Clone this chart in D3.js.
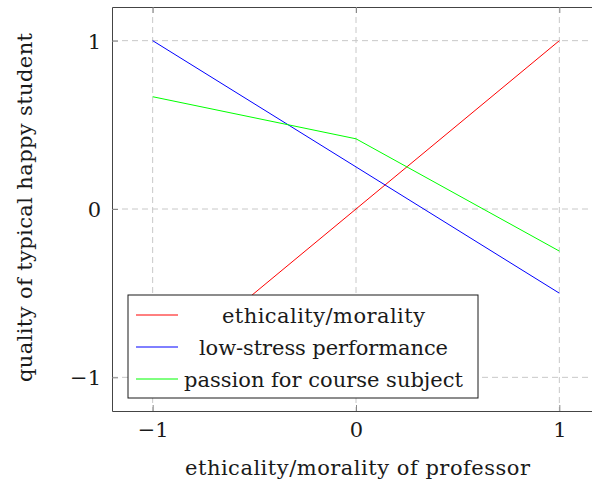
<!DOCTYPE html>
<html>
<head>
<meta charset="utf-8">
<script src="https://cdn.jsdelivr.net/npm/d3@7"></script>
<style>
  body { margin: 0; background: #fff; }
  text { font-family: "DejaVu Serif", serif; fill: #1a1a1a; }
</style>
</head>
<body>
<div class="chart"></div>
<script>
var svgWidth = 592;
var svgHeight = 485;

// data
var xValues = [-1, 0, 1];
var ethicality = [-1, 0, 1];
var lowStress = [1, 0.25, -0.5];
var passion = [0.667, 0.417, -0.25];
var seriesNames = ["ethicality/morality", "low-stress performance", "passion for course subject"];
var seriesColors = ["#ff0000", "#0000ff", "#00ff00"];
var xTicks = [-1, 0, 1];
var yTicks = [-1, 0, 1];

var svg = d3.select(".chart")
  .append("svg")
  .attr("width", svgWidth)
  .attr("height", svgHeight);

var xScale = d3.scaleLinear().domain([-1.2, 1.2]).range([112, 600]);
var yScale = d3.scaleLinear().domain([-1.2, 1.2]).range([411, 7]);

var fmt = function(d) { return d < 0 ? "\u2212" + Math.abs(d) : String(d); };

// grid
var grid = svg.append("g");
grid.selectAll(".vgrid").data(xTicks).enter().append("line")
  .attr("x1", d => xScale(d)).attr("x2", d => xScale(d))
  .attr("y1", yScale.range()[1]).attr("y2", yScale.range()[0])
  .attr("stroke", "#c8c8c8").attr("stroke-dasharray", "6,4");
grid.selectAll(".hgrid").data(yTicks).enter().append("line")
  .attr("x1", xScale.range()[0]).attr("x2", xScale.range()[1])
  .attr("y1", d => yScale(d)).attr("y2", d => yScale(d))
  .attr("stroke", "#c8c8c8").attr("stroke-dasharray", "6,4");

// series lines
var allSeries = [ethicality, lowStress, passion];
var line = d3.line()
  .x((d, i) => xScale(xValues[i]))
  .y(d => yScale(d));

svg.selectAll(".series").data(allSeries).enter().append("path")
  .attr("d", d => line(d))
  .attr("fill", "none")
  .attr("stroke", (d, i) => seriesColors[i])
  .attr("stroke-width", 1);

// frame + inner ticks
var bottomAxis = d3.axisBottom(xScale).tickValues(xTicks).tickFormat(fmt).tickSizeInner(-6).tickSizeOuter(0);
var topAxis = d3.axisTop(xScale).tickValues(xTicks).tickFormat("").tickSizeInner(-6).tickSizeOuter(0);
var leftAxis = d3.axisLeft(yScale).tickValues(yTicks).tickFormat(fmt).tickSizeInner(-6).tickSizeOuter(0);
var rightAxis = d3.axisRight(yScale).tickValues(yTicks).tickFormat("").tickSizeInner(-6).tickSizeOuter(0);

function styleAxis(g) {
  g.select(".domain").attr("stroke", "#444");
  g.selectAll(".tick line").attr("stroke", "#888");
  g.selectAll(".tick text")
    .style("font-family", "DejaVu Serif, serif")
    .style("font-size", "21px")
    .attr("fill", "#1a1a1a");
}

var xAxis = svg.append("g").attr("transform", `translate(0, ${yScale.range()[0]})`).call(bottomAxis).call(styleAxis);
xAxis.selectAll(".tick text").attr("y", 26).attr("dy", 0);
svg.append("g").attr("transform", `translate(0, ${yScale.range()[1]})`).call(topAxis).call(styleAxis);
var yAxis = svg.append("g").attr("transform", `translate(${xScale.range()[0]}, 0)`).call(leftAxis).call(styleAxis);
yAxis.selectAll(".tick text").attr("x", -11).attr("dy", 7.5);
svg.append("g").attr("transform", `translate(${xScale.range()[1]}, 0)`).call(rightAxis).call(styleAxis);

// axis titles
svg.append("text")
  .attr("x", 357.5)
  .attr("y", 475)
  .attr("text-anchor", "middle")
  .attr("textLength", 345)
  .attr("lengthAdjust", "spacing")
  .style("font-size", "21px")
  .text("ethicality/morality of professor");

svg.append("text")
  .attr("transform", `translate(32, 207.5) rotate(-90)`)
  .attr("text-anchor", "middle")
  .attr("textLength", 349)
  .attr("lengthAdjust", "spacing")
  .style("font-size", "21px")
  .text("quality of typical happy student");

// legend
var legendWidths = [203, 249, 279];
var legend = svg.append("g");
legend.append("rect")
  .attr("x", 128).attr("y", 295)
  .attr("width", 350).attr("height", 103)
  .attr("fill", "#fff").attr("stroke", "#1a1a1a");

var rows = legend.selectAll(".row").data(seriesNames).enter().append("g")
  .attr("transform", (d, i) => `translate(0, ${315 + i * 32})`);
rows.append("line")
  .attr("x1", 136).attr("x2", 178)
  .attr("y1", 0).attr("y2", 0)
  .attr("stroke", (d, i) => seriesColors[i])
  .attr("stroke-width", 1);
rows.append("text")
  .attr("x", 323.5).attr("y", 8)
  .attr("text-anchor", "middle")
  .attr("textLength", (d, i) => legendWidths[i])
  .attr("lengthAdjust", "spacing")
  .style("font-size", "21px")
  .text(d => d);
</script>
</body>
</html>
